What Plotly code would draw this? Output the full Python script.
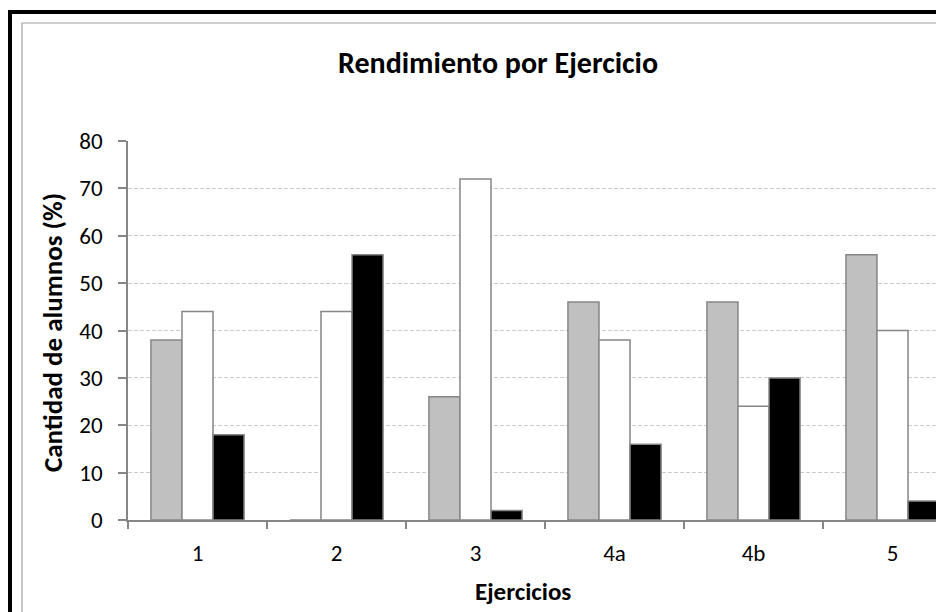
import plotly.graph_objects as go

categories = ["1", "2", "3", "4a", "4b", "5"]
serie_gris = [38, 0, 26, 46, 46, 56]
serie_blanca = [44, 44, 72, 38, 24, 40]
serie_negra = [18, 56, 2, 16, 30, 4]
y_ticks = [0, 10, 20, 30, 40, 50, 60, 70, 80]

W, H = 936, 612
L, R, T, B = 128, 0, 141, 92
pw, ph = W - L - R, H - T - B
cat_px = 139.0

def px_x(p):
    return (p - L) / pw

def px_y(p):
    return (H - B - p) / ph

FONT = "Carlito, Calibri, Lato, sans-serif"
edge = "#868686"

fig = go.Figure()
for vals, col in [(serie_gris, "#c0c0c0"), (serie_blanca, "#ffffff"), (serie_negra, "#000000")]:
    fig.add_trace(go.Bar(x=categories, y=vals, marker=dict(color=col, line=dict(color=edge, width=1.5)),
                         showlegend=False, cliponaxis=True))

fig.update_layout(
    width=W, height=H,
    margin=dict(l=L, r=R, t=T, b=B, pad=0),
    paper_bgcolor="white", plot_bgcolor="white",
    bargap=0.33, bargroupgap=0,
    font=dict(family=FONT, color="black", size=23),
    xaxis=dict(type="category", range=[-0.5, pw / cat_px - 0.5], showline=True, linecolor=edge, linewidth=1.5,
               ticks="outside", tickson="boundaries", ticklen=7, tickcolor=edge, tickwidth=1.5,
               showgrid=False, ticklabelstandoff=12, tickfont=dict(size=23)),
    yaxis=dict(range=[0, 80], tickvals=y_ticks, showline=True, linecolor=edge, linewidth=1.5,
               ticks="outside", ticklen=8, tickcolor=edge, tickwidth=1.5,
               showgrid=True, gridcolor="#cccccc", griddash="4px,2px", gridwidth=1,
               zeroline=False, ticklabelstandoff=11, tickfont=dict(size=23)),
    annotations=[
        dict(text="<b>Rendimiento por Ejercicio</b>", x=px_x(498), y=px_y(62), xref="paper", yref="paper",
             showarrow=False, font=dict(size=30, family=FONT), xanchor="center", yanchor="middle"),
        dict(text="<b>Ejercicios</b>", x=px_x(523), y=px_y(591), xref="paper", yref="paper",
             showarrow=False, font=dict(size=25, family=FONT), xanchor="center", yanchor="middle"),
        dict(text="<b>Cantidad de alumnos (%)</b>", x=px_x(52), y=px_y(333), xref="paper", yref="paper",
             showarrow=False, textangle=-90, font=dict(size=27, family=FONT), xanchor="center", yanchor="middle"),
    ],
    shapes=[
        dict(type="rect", xref="paper", yref="paper", x0=px_x(22), x1=px_x(960), y0=px_y(23), y1=px_y(640),
             line=dict(color="#a0a0a0", width=1.2), fillcolor="rgba(0,0,0,0)", layer="below"),
        dict(type="rect", xref="paper", yref="paper", x0=px_x(10), x1=px_x(970), y0=px_y(12), y1=px_y(650),
             line=dict(color="black", width=4), fillcolor="rgba(0,0,0,0)", layer="above"),
    ],
)

fig.write_html("out.html", config={"displayModeBar": False},
               post_script="document.body.style.margin='0';document.body.style.overflow='hidden';")
